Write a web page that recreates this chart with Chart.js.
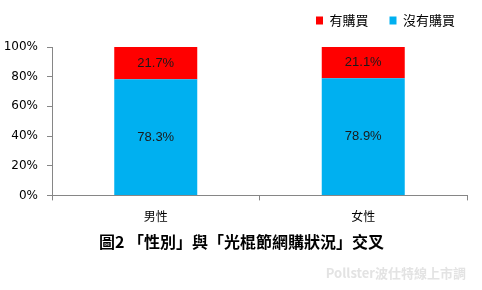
<!DOCTYPE html>
<html>
<head>
<meta charset="utf-8">
<script src="https://cdn.jsdelivr.net/npm/chart.js@4"></script>
<style>
  body { margin: 0; background: #fff; }
  #barChart { display: block; }
</style>
</head>
<body>
<canvas id="barChart" width="482" height="290"></canvas>
<script>
// data
var categories = ["男性", "女性"];
var noBuy = [78.3, 78.9];
var yesBuy = [21.7, 21.1];
var seriesNames = ["沒有購買", "有購買"];
var yTicks = [0, 20, 40, 60, 80, 100];
var chartTitle = "圖2 「性別」與「光棍節網購狀況」交叉";
var watermark = "Pollster波仕特線上市調";

var cjk = '"Noto Sans CJK TC", "Noto Sans", sans-serif';
var axisGray = '#868686';
var legendGap = 21;

// value labels in the middle of each bar piece
var barLabels = {
  id: 'barLabels',
  afterDatasetsDraw(chart) {
    var ctx = chart.ctx;
    ctx.save();
    ctx.font = '13px "Liberation Sans", "DejaVu Sans", sans-serif';
    ctx.fillStyle = '#1a1a1a';
    ctx.textAlign = 'center';
    ctx.textBaseline = 'middle';
    chart.data.datasets.forEach(function(ds, i) {
      chart.getDatasetMeta(i).data.forEach(function(bar, j) {
        var mid = (bar.y + bar.base) / 2;
        ctx.fillText(ds.data[j].toFixed(1) + '%', bar.x, mid);
      });
    });
    ctx.restore();
  }
};

// light watermark bottom right
var stamp = {
  id: 'stamp',
  afterDraw(chart) {
    var ctx = chart.ctx;
    ctx.save();
    ctx.font = 'bold 13px ' + cjk;
    ctx.fillStyle = '#e3e3e3';
    ctx.textAlign = 'right';
    ctx.textBaseline = 'middle';
    ctx.fillText(watermark, 466, 273);
    ctx.restore();
  }
};

// nudge legend and title sideways
var boxFix = {
  id: 'boxFix',
  afterLayout(chart) {
    chart.legend.left += 9;
    chart.legend.right += 9;
    chart.titleBlock.left += 6;
    chart.titleBlock.right += 6;
  }
};

var ctx = document.getElementById("barChart").getContext('2d');
var myChart = new Chart(ctx, {
  type: 'bar',
  data: {
    labels: categories,
    datasets: [{
      label: seriesNames[0],
      data: noBuy,
      backgroundColor: '#00B0F0',
      categoryPercentage: 0.4,
      barPercentage: 1.0
    },
    {
      label: seriesNames[1],
      data: yesBuy,
      backgroundColor: '#FF0000',
      categoryPercentage: 0.4,
      barPercentage: 1.0
    }]
  },
  options: {
    responsive: false,
    animation: false,
    devicePixelRatio: 1,
    layout: { padding: { left: 4, right: 15, top: -7, bottom: 38 } },
    plugins: {
      tooltip: { enabled: false },
      legend: {
        position: 'top',
        align: 'end',
        reverse: true,
        labels: {
          boxWidth: 7,
          boxHeight: 8,
          padding: legendGap,
          color: '#000',
          font: { family: cjk, size: 13 }
        }
      },
      title: {
        display: true,
        text: chartTitle,
        position: 'bottom',
        color: '#000',
        font: { family: cjk, size: 16, weight: 'bold' },
        padding: { top: 0, bottom: 0 }
      }
    },
    scales: {
      x: {
        stacked: true,
        border: { color: axisGray, width: 1 },
        grid: { offset: true, drawOnChartArea: false, color: axisGray, tickLength: 5 },
        ticks: { color: '#000', font: { family: cjk, size: 12 }, padding: 9 }
      },
      y: {
        stacked: true,
        min: 0,
        max: 100,
        border: { color: axisGray, width: 1 },
        grid: { drawOnChartArea: false, color: axisGray, tickLength: 5 },
        afterBuildTicks: function(axis) {
          axis.ticks = yTicks.map(function(v) { return { value: v }; });
        },
        afterFit: function(axis) { axis.width = 48; },
        ticks: {
          color: '#000',
          font: { family: '"DejaVu Sans", sans-serif', size: 12 },
          padding: 9,
          callback: function(v) { return v + '%'; }
        }
      }
    }
  },
  plugins: [barLabels, stamp, boxFix]
});

var lg = myChart.legend;
var origFit = lg.fit;
lg.fit = function() {
  origFit.call(this);
  this.height = 54;
};
myChart.update();
</script>
</body>
</html>
